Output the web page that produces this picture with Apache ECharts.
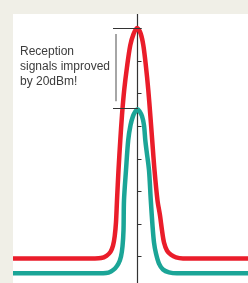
<!DOCTYPE html>
<html>
<head>
<meta charset="utf-8">
<script src="https://cdn.jsdelivr.net/npm/echarts@6/dist/echarts.min.js"></script>
<style>
  html, body { margin: 0; padding: 0; background: #f0efe7; overflow: hidden; }
  #main { position: absolute; left: 0; top: -4px; width: 248px; height: 293px; }
</style>
</head>
<body>
<div id="main"></div>
<script>
// x = offset from the peak, y = signal level (tick every 10)
var redCurve = [
  [-124.5, -0.6], [-42.5, -0.6], [-36.5, -0.5], [-31, 0.2], [-27, 1.4], [-24.5, 3.3],
  [-22.8, 6.2], [-21.5, 10.5], [-20.5, 17.2], [-19, 26.5], [-17.2, 35.7], [-15.5, 43.4],
  [-13.3, 51.1], [-10.5, 58.2], [-7.2, 64.9], [-4, 68.3], [-0.5, 70.2], [3, 68.6],
  [5.8, 64.9], [8.5, 58.2], [10.8, 51.1], [12.8, 43.4], [14.7, 35.7], [17, 26.5],
  [20, 17.2], [22.5, 12.6], [24.5, 8], [26.5, 4.3], [29.5, 1.8], [33.5, 0.5],
  [38.5, -0.3], [45.5, -0.6], [110.5, -0.6]
];
var tealCurve = [
  [-124.5, -5.2], [-38.5, -5.2], [-31.5, -5.1], [-26.5, -4.6], [-22.5, -3.7], [-19, -2.2],
  [-16.5, 0], [-15, 3.1], [-14, 8], [-13.5, 17.2], [-11.5, 26.5], [-9.3, 35.7],
  [-7, 40.3], [-4.5, 43.1], [-2, 44.6], [0, 45.2], [2, 44.6], [4.5, 43.1], [6.5, 40.3],
  [7.8, 35.7], [9, 32.6], [11.5, 26.5], [13.3, 17.2], [15, 9.5], [16.5, 4.3],
  [18.5, 0.9], [21.5, -2.2], [25.5, -4], [31.5, -4.9], [39.5, -5.2], [110.5, -5.2]
];
var redPeak = 70.2;
var tealPeak = 45.5;
var noteText = 'Reception\nsignals improved\nby 20dBm!';

// the chart box starts 4px above the window so the axis ends line up
var myChart = echarts.init(document.getElementById('main'));
myChart.setOption({
  animation: false,
  backgroundColor: '#ffffff',
  grid: { left: 13, right: 0, top: 0, bottom: 0 },
  xAxis: { type: 'value', min: -124.5, max: 110.5, show: false },
  yAxis: {
    type: 'value', min: -10, max: 80, interval: 10,
    axisLine: { show: true, onZero: true, lineStyle: { color: '#333', width: 1.2 } },
    axisTick: { show: true, inside: true, length: 4, lineStyle: { color: '#333' } },
    axisLabel: { show: false },
    splitLine: { show: false }
  },
  series: [
    {
      type: 'line', data: tealCurve, showSymbol: false, smooth: 0.3,
      lineStyle: { color: '#1ba597', width: 4.5 }
    },
    {
      type: 'line', data: redCurve, showSymbol: false, smooth: 0.3,
      lineStyle: { color: '#ea1d2a', width: 4.5 },
      markLine: {
        silent: true, symbol: 'none', label: { show: false },
        lineStyle: { color: '#333', width: 1, type: 'solid' },
        data: [
          [{ coord: [-24.5, redPeak] }, { coord: [4, redPeak] }],
          [{ coord: [-24.5, tealPeak] }, { coord: [0.5, tealPeak] }],
          [{ coord: [-21.5, 68.3], lineStyle: { color: '#888', width: 1.5 } },
           { coord: [-21.5, 47.7] }]
        ]
      }
    }
  ],
  graphic: [
    { type: 'rect', z: 100, shape: { x: 0, y: 0, width: 248, height: 18 }, style: { fill: '#f0efe7' } },
    { type: 'rect', z: 100, shape: { x: 0, y: 0, width: 13, height: 293 }, style: { fill: '#f0efe7' } },
    {
      type: 'text', z: 101, x: 20, y: 48,
      style: { text: noteText, fill: '#3c3c3c', font: '12px "Liberation Sans", Arial, sans-serif', lineHeight: 15 }
    }
  ]
});
</script>
</body>
</html>
